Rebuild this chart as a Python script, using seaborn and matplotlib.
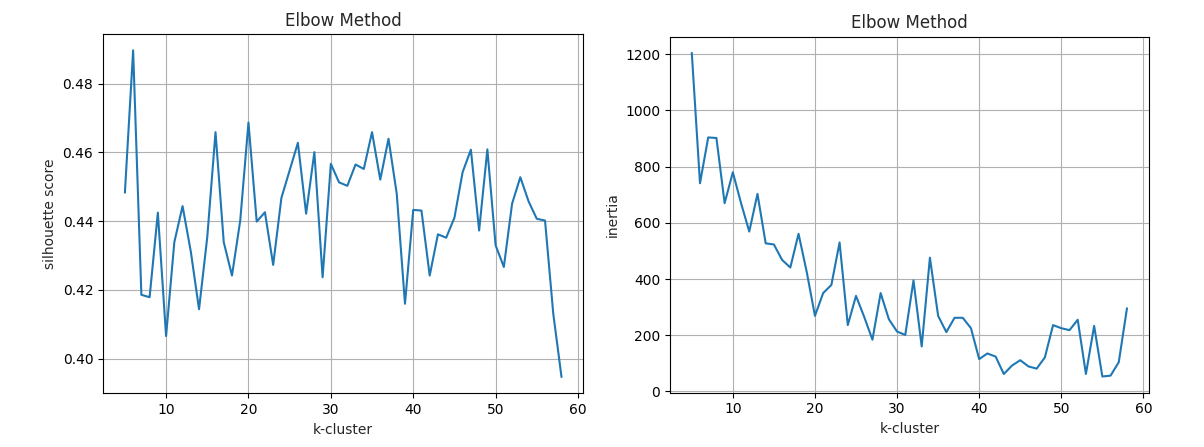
import numpy as np
import pandas as pd
import matplotlib
matplotlib.use("Agg")
import matplotlib.pyplot as plt
import seaborn as sns

k_values = list(range(5, 59))

silhouette = [
    0.4483, 0.4897, 0.4186, 0.4179, 0.4425, 0.4066, 0.4339, 0.4444, 0.4312, 0.4144,
    0.4354, 0.4659, 0.4339, 0.4242, 0.4402, 0.4687, 0.4399, 0.4426, 0.4273, 0.4468,
    0.4548, 0.4628, 0.4422, 0.4601, 0.4237, 0.4567, 0.4513, 0.4503, 0.4565, 0.4552,
    0.4659, 0.4521, 0.4640, 0.4480, 0.4160, 0.4433, 0.4431, 0.4242, 0.4362, 0.4352,
    0.4410, 0.4543, 0.4608, 0.4373, 0.4609, 0.4330, 0.4267, 0.4451, 0.4528, 0.4458,
    0.4407, 0.4402, 0.4131, 0.3947,
]

inertia = [
    1205, 741, 904, 902, 670, 780, 670, 569, 703, 527,
    523, 468, 441, 561, 425, 269, 350, 379, 530, 236,
    340, 265, 184, 350, 257, 213, 201, 395, 160, 476,
    269, 211, 262, 262, 225, 115, 135, 124, 62, 92,
    111, 89, 81, 121, 236, 225, 218, 255, 62, 233,
    53, 56, 104, 296,
]

df = pd.DataFrame({"k": k_values, "silhouette": silhouette, "inertia": inertia})

sns.set_style("ticks")
plt.rcParams["font.family"] = ["DejaVu Sans"]

fig = plt.figure(figsize=(12.04, 4.47), dpi=100)
ax1 = fig.add_axes([0.0856, 0.1201, 0.3989, 0.8038])
ax2 = fig.add_axes([0.5565, 0.1215, 0.3976, 0.7964])

sns.lineplot(data=df, x="k", y="silhouette", ax=ax1, color="#1f77b4", linewidth=1.5)
ax1.set_title("Elbow Method", fontsize=12)
ax1.set_xlabel("k-cluster")
ax1.set_ylabel("silhouette score")
ax1.grid(True, color="#b0b0b0", linewidth=0.8)

sns.lineplot(data=df, x="k", y="inertia", ax=ax2, color="#1f77b4", linewidth=1.5)
ax2.set_title("Elbow Method", fontsize=12)
ax2.set_xlabel("k-cluster")
ax2.set_ylabel("inertia")
ax2.grid(True, color="#b0b0b0", linewidth=0.8)

for ax in (ax1, ax2):
    for sp in ax.spines.values():
        sp.set_color("black")
        sp.set_linewidth(0.8)
    ax.tick_params(colors="black", labelsize=10)

fig.savefig("out.png", dpi=100)
plt.close(fig)
